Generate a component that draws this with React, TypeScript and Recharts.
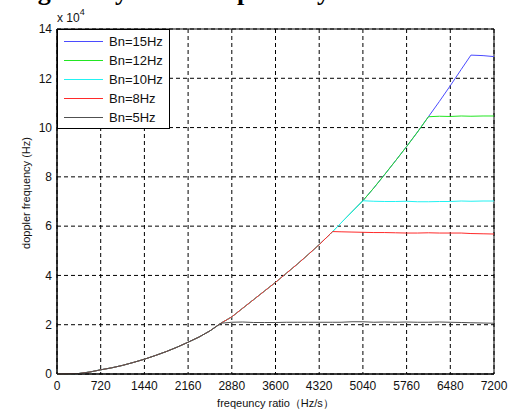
import React from "react";
import { LineChart, Line, XAxis, YAxis, CartesianGrid, Legend, Label, ReferenceArea } from "recharts";

// frequency ratio (Hz/s)
const freqRatio = [
  0, 180, 360, 540, 720, 900, 1080, 1260, 1440, 1620, 1800, 1980, 2160, 2340, 2520, 2700, 2880, 3060, 3240, 3420,
  3600, 3780, 3960, 4140, 4320, 4500, 4540, 4680, 4860, 5040, 5220, 5400, 5580, 5760, 5940, 6120, 6300, 6480, 6660,
  6820, 7020, 7200,
];

// doppler frequency, in units of 10^4 Hz
const bn15 = [
  0, 0.005, 0.02, 0.08, 0.17, 0.25, 0.35, 0.47, 0.6, 0.75, 0.91, 1.09, 1.29, 1.5, 1.75, 2.06, 2.32, 2.67, 3.02, 3.37,
  3.72, 4.09, 4.46, 4.85, 5.25, 5.68, 5.78, 6.13, 6.58, 7.03, 7.55, 8.1, 8.66, 9.23, 9.82, 10.44, 11.06, 11.7, 12.36,
  12.94, 12.92, 12.88,
];
const bn12 = [
  0, 0.005, 0.02, 0.08, 0.17, 0.25, 0.35, 0.47, 0.6, 0.75, 0.91, 1.09, 1.29, 1.5, 1.75, 2.06, 2.32, 2.67, 3.02, 3.37,
  3.72, 4.09, 4.46, 4.85, 5.25, 5.68, 5.78, 6.13, 6.58, 7.03, 7.55, 8.1, 8.66, 9.23, 9.82, 10.44, 10.46, 10.45, 10.47,
  10.46, 10.47, 10.47,
];
const bn10 = [
  0, 0.005, 0.02, 0.08, 0.17, 0.25, 0.35, 0.47, 0.6, 0.75, 0.91, 1.09, 1.29, 1.5, 1.75, 2.06, 2.32, 2.67, 3.02, 3.37,
  3.72, 4.09, 4.46, 4.85, 5.25, 5.68, 5.78, 6.13, 6.58, 7.03, 7.01, 7.0, 7.0, 7.01, 6.99, 6.99, 7.0, 7.0, 7.02, 7.01,
  7.02, 7.02,
];
const bn8 = [
  0, 0.005, 0.02, 0.08, 0.17, 0.25, 0.35, 0.47, 0.6, 0.75, 0.91, 1.09, 1.29, 1.5, 1.75, 2.06, 2.32, 2.67, 3.02, 3.37,
  3.72, 4.09, 4.46, 4.85, 5.25, 5.68, 5.78, 5.77, 5.76, 5.75, 5.74, 5.74, 5.73, 5.72, 5.72, 5.73, 5.72, 5.72, 5.72,
  5.7, 5.69, 5.68,
];
const bn5 = [
  0, 0.005, 0.02, 0.08, 0.17, 0.25, 0.35, 0.47, 0.6, 0.75, 0.91, 1.09, 1.29, 1.5, 1.75, 2.06, 2.1, 2.11, 2.09, 2.09,
  2.09, 2.1, 2.1, 2.1, 2.1, 2.1, 2.1, 2.1, 2.12, 2.12, 2.1, 2.11, 2.1, 2.11, 2.1, 2.1, 2.11, 2.1, 2.09, 2.08, 2.07,
  2.06,
];

const xTicks = [0, 720, 1440, 2160, 2880, 3600, 4320, 5040, 5760, 6480, 7200];
const yTicks = [0, 2, 4, 6, 8, 10, 12, 14];

const series = [
  { key: "bn15", name: "Bn=15Hz", color: "#4b4bff" },
  { key: "bn12", name: "Bn=12Hz", color: "#22e622" },
  { key: "bn10", name: "Bn=10Hz", color: "#22f2f2" },
  { key: "bn8", name: "Bn=8Hz", color: "#ff2a2a" },
  { key: "bn5", name: "Bn=5Hz", color: "#505050" },
];

const data = freqRatio.map((x, i) => ({
  x,
  bn15: bn15[i],
  bn12: bn12[i],
  bn10: bn10[i],
  bn8: bn8[i],
  bn5: bn5[i],
}));

const font = "'Liberation Sans', Arial, sans-serif";

const LegendBox = () => (
  <div
    style={{
      width: 113,
      height: 100,
      border: "1px solid #000",
      background: "#fff",
      boxSizing: "border-box",
      position: "relative",
      fontFamily: font,
      fontSize: 13,
      color: "#111",
    }}
  >
    {series.map((s, i) => (
      <div key={s.key} style={{ position: "absolute", left: 6, top: 2 + i * 19, height: 19, display: "flex", alignItems: "center" }}>
        <div style={{ width: 39, height: 1, background: s.color }} />
        <span style={{ marginLeft: 6 }}>{s.name}</span>
      </div>
    ))}
  </div>
);

export default function App() {
  return (
    <div style={{ position: "fixed", left: 0, top: 0, width: 508, height: 410, background: "#fff" }}>
      <LineChart width={508} height={410} data={data} margin={{ top: 29, right: 14, bottom: 0, left: 0 }}>
        <CartesianGrid stroke="#000" strokeDasharray="4 3" />
        <ReferenceArea x1={0} x2={7200} y1={0} y2={14} fill="none" stroke="#000" strokeOpacity={1} />
        <XAxis
          dataKey="x"
          type="number"
          domain={[0, 7200]}
          ticks={xTicks}
          interval={0}
          height={36}
          tickLine={false}
          tickSize={5}
          tickMargin={2}
          axisLine={{ stroke: "#000" }}
          tick={{ fill: "#111", fontSize: 12, fontFamily: font }}
        >
          <Label
            value="freqeuncy ratio（Hz/s）"
            position="insideBottom"
            offset={3}
            style={{ fill: "#111", fontSize: 11, fontFamily: font }}
          />
        </XAxis>
        <YAxis
          type="number"
          domain={[0, 14]}
          ticks={yTicks}
          interval={0}
          width={57}
          tickLine={false}
          tickSize={3}
          tickMargin={2}
          axisLine={{ stroke: "#000" }}
          tick={{ fill: "#111", fontSize: 12, fontFamily: font }}
        >
          <Label
            content={() => (
              <text
                x={26}
                y={193}
                transform="rotate(-90 26 193)"
                textAnchor="middle"
                dominantBaseline="central"
                style={{ fill: "#111", fontSize: 11, fontFamily: font }}
              >
                doppler frequency (Hz)
              </text>
            )}
          />
        </YAxis>
        <Legend
          layout="vertical"
          align="center"
          verticalAlign="middle"
          content={() => <LegendBox />}
          wrapperStyle={{ left: 57, top: 29, width: 113, height: 100 }}
        />
        {series.map((s) => (
          <Line
            key={s.key}
            dataKey={s.key}
            name={s.name}
            stroke={s.color}
            strokeWidth={1}
            dot={false}
            activeDot={false}
            type="linear"
            isAnimationActive={false}
          />
        ))}
      </LineChart>
      <svg width={508} height={30} style={{ position: "absolute", left: 0, top: 0, pointerEvents: "none" }}>
        <text x={-50} y={-0.5} style={{ fontFamily: "'Liberation Serif', serif", fontWeight: "bold", fontSize: 26, fill: "#000" }}>
          Tracking ability of the loop theory
        </text>
        <text x={57} y={22} style={{ fontFamily: font, fontSize: 12, fill: "#111" }}>
          x 10
          <tspan dy={-7} fontSize={9}>
            4
          </tspan>
        </text>
      </svg>
    </div>
  );
}
